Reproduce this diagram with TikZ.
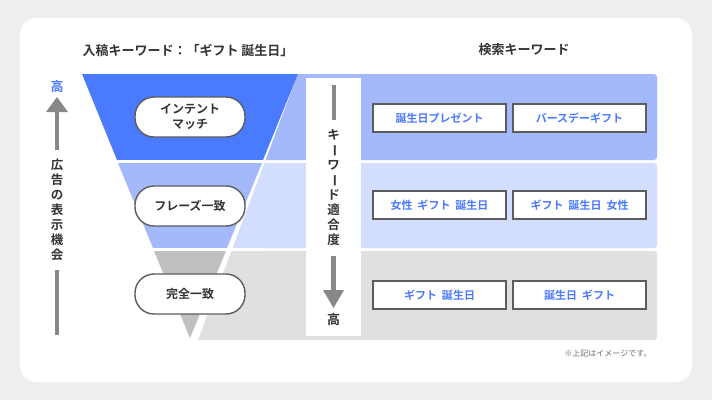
\documentclass[tikz,border=0pt]{standalone}
\usepackage{fontspec}
\setmainfont{Noto Sans CJK JP}[BoldFont={Noto Sans CJK JP Bold}]
\newfontfamily\jpb{Noto Sans CJK JP Bold}
\definecolor{bgc}{HTML}{EEEEEE}
\definecolor{fa}{HTML}{4A7AFE}
\definecolor{fb}{HTML}{A4B9FB}
\definecolor{fc}{HTML}{D3DDFD}
\definecolor{gd}{HTML}{C0C0C0}
\definecolor{ge}{HTML}{E0E0E0}
\definecolor{txt}{HTML}{333333}
\definecolor{arr}{HTML}{888888}
\newcommand{\vb}{\rotatebox[origin=c]{-90}{ー}}
\begin{document}
\begin{tikzpicture}[x=1pt,y=-1pt,
  pill/.style={draw=txt!80,line width=1.4pt,fill=white,rounded corners=19pt,minimum width=110pt,minimum height=40pt,align=center,font=\jpb\fontsize{12}{15}\selectfont,text=txt},
  kw/.style={draw=txt!80,line width=1.4pt,fill=white,minimum width=133pt,minimum height=28pt,font=\jpb\fontsize{11}{13}\selectfont,text=fa},
  vtext/.style={align=center,font=\jpb\fontsize{12.5}{15}\selectfont,text=txt,inner sep=0pt}]
\useasboundingbox (0,0) rectangle (712,400);
\fill[bgc] (0,0) rectangle (712,400);
\fill[white,rounded corners=16pt] (20,18) rectangle (692,382);
% bands
\fill[fb,rounded corners=3pt] (190,74) rectangle (657,160);
\fill[fc,rounded corners=3pt] (190,163) rectangle (657,248);
\fill[ge,rounded corners=3pt] (190,251) rectangle (657,340);
% white cover left of bands (diagonal)
\fill[white] (100,60) -- (303,60) -- (196,345) -- (100,345) -- cycle;
% funnel
\fill[fa] (82,74) -- (298,74) -- (263,160) -- (117,160) -- cycle;
\fill[fb] (118,163) -- (262,163) -- (227,248) -- (153,248) -- cycle;
\fill[gd] (154,251) -- (226,251) -- (190,338) -- cycle;
\fill[white] (153,248) rectangle (263,251);
\fill[white] (117,160) rectangle (264,163);
% headers
\node[font=\jpb\fontsize{13}{15}\selectfont,text=txt] (h1) at (188,50) {入稿キーワード：「ギフト 誕生日」};
\node[font=\jpb\fontsize{13}{15}\selectfont,text=txt] (h2) at (524,50) {検索キーワード};
% pills
\node[pill] (p1) at (190,117) {インテント\\マッチ};
\node[pill] (p2) at (190,206) {フレーズ一致};
\node[pill] (p3) at (190,294) {完全一致};
% keyword boxes
\node[kw] (k11) at (439.5,118) {誕生日プレゼント};
\node[kw] (k12) at (579.5,118) {バースデーギフト};
\node[kw] (k21) at (439.5,205) {女性\ \ ギフト\ \ 誕生日};
\node[kw] (k22) at (579.5,205) {ギフト\ \ 誕生日\ \ 女性};
\node[kw] (k31) at (439.5,295) {ギフト\ \ 誕生日};
\node[kw] (k32) at (579.5,295) {誕生日\ \ ギフト};
% middle vertical
\fill[white] (306,78) rectangle (361,336);
\node[vtext] (vt) at (333.5,187) {キ\\\vb\\ワ\\\vb\\ド\\適\\合\\度};
\node[font=\jpb\fontsize{13}{15}\selectfont,text=txt] (vh) at (333.5,320) {高};
\coordinate (vt0) at (333.5,85);
\coordinate (va) at (333.5,256);
\coordinate (vtip) at (333.5,308);
\draw[arr,line width=4pt] (vt0) -- (333.5,120);
\fill[arr] (va) ++(-2.5,0) rectangle (336,293);
\fill[arr] (323,290) -- (344,290) -- (vtip) -- cycle;
% left axis
\node[font=\jpb\fontsize{13}{15}\selectfont,text=fa] (lh) at (57,87) {高};
\node[vtext] (lt) at (57,210) {広\\告\\の\\表\\示\\機\\会};
\fill[arr] (46,112) -- (68,112) -- (57,97) -- cycle;
\fill[arr] (55,111) rectangle (59,150);
\fill[arr] (55,270) rectangle (59,335);
% note
\node[font=\fontsize{8}{10}\selectfont,text=arr!80!black] (note) at (608,353) {※上記はイメージです。};
\end{tikzpicture}
\end{document}
